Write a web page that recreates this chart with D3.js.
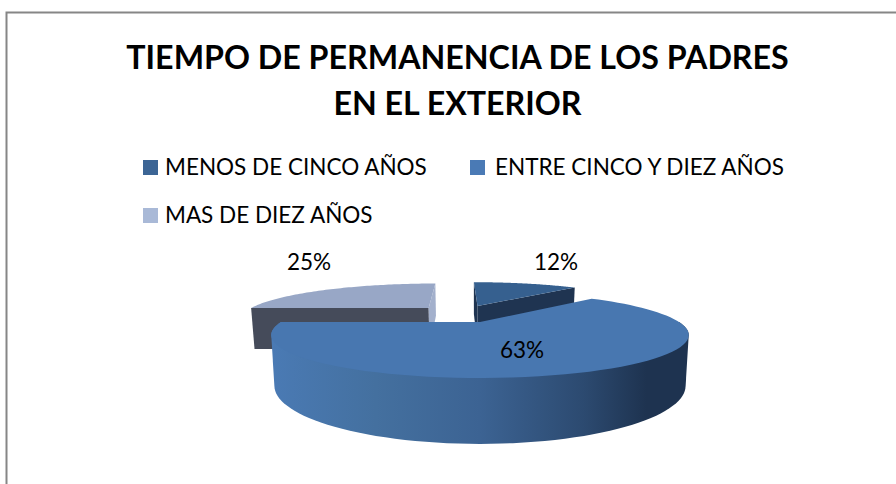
<!DOCTYPE html>
<html><head><meta charset="utf-8">
<script src="https://cdn.jsdelivr.net/npm/d3@7"></script>
<style>html,body{margin:0;padding:0;background:#fff}svg{display:block}text{font-family:Lato,"Open Sans",sans-serif;fill:#000}</style>
</head><body><svg id="c" width="896" height="484"></svg>
<script>
const categories = ["MENOS DE CINCO AÑOS", "ENTRE CINCO Y DIEZ AÑOS", "MAS DE DIEZ AÑOS"];
const values = [12, 63, 25];
const valueLabels = ["12%", "63%", "25%"];
const titleLines = ["TIEMPO DE PERMANENCIA DE LOS PADRES", "EN EL EXTERIOR"];

const topColors = ["#36608f", "#4877b0", "#98a7c6"];
const legendColors = ["#3c6595", "#4a7ab5", "#a9b9d7"];
const wallDark = ["#1f3451", "#1f3451", "#454b5a"];
const wallEnd = ["#1f3451", "#1f3451", "#a3b0cc"];

const svg = d3.select("#c");
const defs = svg.append("defs");
const grad = defs.append("linearGradient").attr("id", "sideGrad").attr("gradientUnits", "userSpaceOnUse")
  .attr("x1", 272).attr("x2", 688).attr("y1", 0).attr("y2", 0);
[[0, "#4a7ab4"], [.25, "#44709f"], [.5, "#3c6393"], [.75, "#2c4a70"], [.9, "#1e3350"], [1, "#1e3350"]]
  .forEach(([o, c]) => grad.append("stop").attr("offset", o).attr("stop-color", c));

// frame
svg.append("path").attr("d", "M6.5,484V12.5H896").attr("fill", "none").attr("stroke", "#868686").attr("stroke-width", 2);

// title
svg.append("g").selectAll("text").data(titleLines).join("text")
  .attr("x", 457.5).attr("y", (d, i) => 69 + i * 46).attr("text-anchor", "middle")
  .attr("font-size", 32.2).attr("font-weight", 700).text(d => d);

// legend
const legendPos = [[143, 160, 165], [470, 160, 495], [143, 208, 165]];
const lg = svg.append("g").selectAll("g").data(categories).join("g");
lg.append("rect").attr("x", (d, i) => legendPos[i][0]).attr("y", (d, i) => legendPos[i][1])
  .attr("width", 15).attr("height", 15).attr("fill", (d, i) => legendColors[i]);
lg.append("text").attr("x", (d, i) => legendPos[i][2]).attr("y", (d, i) => legendPos[i][1] + 15)
  .attr("font-size", 22.5).text(d => d);

// 3D projection of the disc
const X0 = 480, Y0 = 322, RX = 199, RY = 39.1, K = 0.302, D = 46;
const explode = [[0, -0.47], [0, 0], [-0.277, -0.4]];
const skew = [6, 0, 6];
function proj(i, u, v, z) {
  const w = 1 - K * v;
  return [X0 + (RX * u * (1 - 0.015 * z) + skew[i] * v) / w, Y0 + (RY * v + D * z) / w];
}
const pie = d3.pie().sort(null).value(d => d)(values);
const line = d3.line();
function rim(i, a, z) { const [ou, ov] = explode[i]; return proj(i, ou + Math.sin(a), ov - Math.cos(a), z); }
function centre(i, z) { return proj(i, explode[i][0], explode[i][1], z); }
function arcPts(i, z, a0, a1) {
  const n = 80;
  return d3.range(n + 1).map(k => rim(i, a0 + (a1 - a0) * k / n, z));
}
const g = svg.append("g");
function drawSlice(i) {
  const p = pie[i];
  if (i === 1) {
    // outer wall: silhouette of the front half of the rim, top and bottom
    const a0 = Math.PI / 2;
    const hull = d3.polygonHull(arcPts(i, 0, a0, p.endAngle).concat(arcPts(i, 1, a0, p.endAngle)));
    g.append("path").attr("d", line(hull) + "Z").attr("fill", "url(#sideGrad)");
  } else {
    const drawWall = (a, col) => g.append("path")
      .attr("d", line([centre(i, 0), rim(i, a, 0), rim(i, a, 1), centre(i, 1)]) + "Z").attr("fill", col);
    drawWall(p.startAngle, wallDark[i]);
    drawWall(p.endAngle, wallEnd[i]);
  }
  g.append("path").attr("d", line([centre(i, 0)].concat(arcPts(i, 0, p.startAngle, p.endAngle))) + "Z").attr("fill", topColors[i]);
}
[2, 0, 1].forEach(drawSlice);

// data labels
const labelPos = [[556, 270], [522, 358], [309, 270]];
svg.append("g").selectAll("text").data(valueLabels).join("text")
  .attr("x", (d, i) => labelPos[i][0]).attr("y", (d, i) => labelPos[i][1])
  .attr("text-anchor", "middle").attr("font-size", 22.5).text(d => d);
</script></body></html>
